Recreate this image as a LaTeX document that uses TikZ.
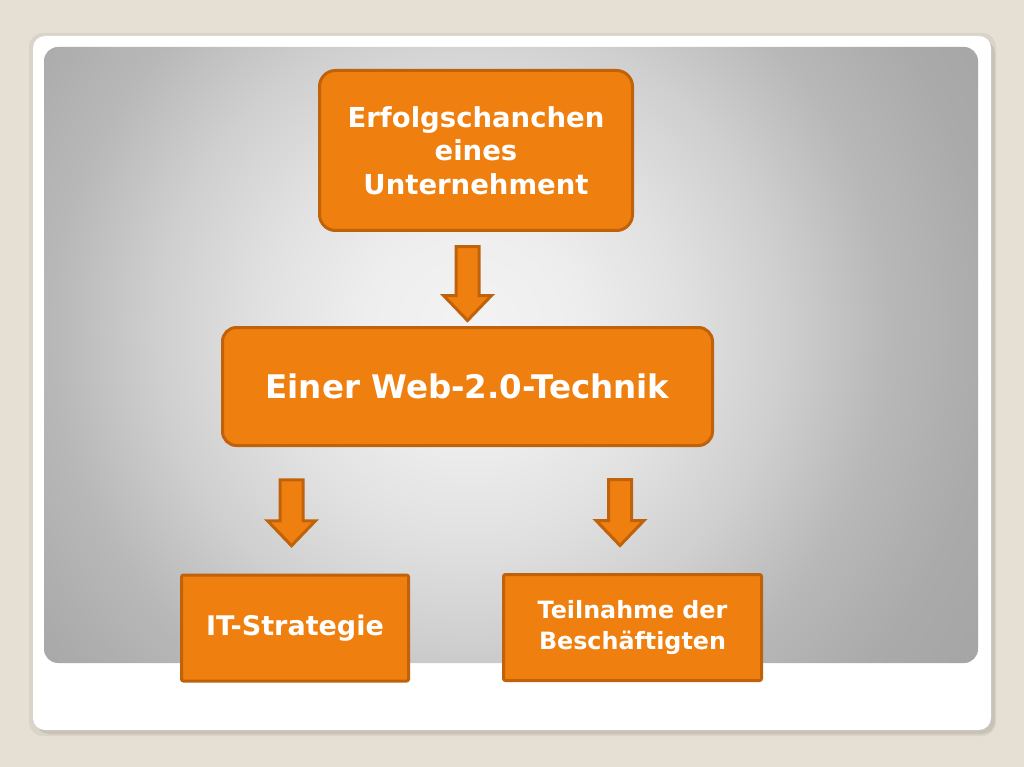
\documentclass[tikz,border=0pt]{standalone}
\usepackage{fontspec}
\setmainfont{DejaVu Sans}
\usepackage{xcolor}
\usetikzlibrary{calc,positioning}

\definecolor{pagebg}{HTML}{E5DFD4}
\definecolor{frameshade}{HTML}{C8C2B7}
\definecolor{frameglow}{HTML}{D9D3C8}
\definecolor{boxfill}{HTML}{EF7F0E}
\definecolor{boxline}{HTML}{C0620A}
\definecolor{panela}{HTML}{F3F3F3}
\definecolor{panelb}{HTML}{EEEEEE}
\definecolor{panelc}{HTML}{E1E1E1}
\definecolor{paneld}{HTML}{CFCFCF}
\definecolor{panele}{HTML}{B8B8B8}
\definecolor{panelf}{HTML}{AAAAAA}
\definecolor{panelg}{HTML}{A4A4A4}
\pgfdeclareradialshading{panelglow}{\pgfpointorigin}{color(0bp)=(panela); color(5bp)=(panelb); color(10bp)=(panelc); color(15bp)=(paneld); color(20bp)=(panele); color(25bp)=(panelf); color(30bp)=(panelg); color(50bp)=(panelg)}

\begin{document}
\begin{tikzpicture}[
    x=1pt, y=-1pt,
    box/.style={draw=boxline,line width=3pt,fill=boxfill,text=white,font=\bfseries,align=center,inner sep=0pt},
    chief/.style={box,rounded corners=16pt},
    leaf/.style={box,rounded corners=2pt},
    pics/downarrow/.style={code={
        \draw[boxline,line width=3pt,fill=boxfill,line join=miter]
            (-11.5,-#1/2) -- (11.5,-#1/2) -- (11.5,#1/2-25) -- (24,#1/2-25)
            -- (0,#1/2) -- (-24,#1/2-25) -- (-11.5,#1/2-25) -- cycle;
    }}
]
\useasboundingbox (0,0) rectangle (1024,767);
\fill[pagebg] (0,0) rectangle (1024,767);
% slide frame with its shadow
\fill[frameglow,rounded corners=14pt] (29,33) rectangle (996,736);
\fill[frameshade,rounded corners=13pt] (36,40) rectangle (995,734);
\fill[white,rounded corners=12pt] (33,36) rectangle (991,730);
\begin{scope}
  \clip[rounded corners=14pt] (44,47) rectangle (978,663);
  \shade[shading=panelglow] (-50,-190) rectangle (990,850);
\end{scope}

\node[chief,minimum width=313,minimum height=160,font=\bfseries\fontsize{27.5}{33.5}\selectfont] (gain) at (476,150.5) {Erfolgschanchen\\eines\\Unternehment};
\node[chief,rounded corners=14pt,minimum width=490,minimum height=118,font=\bfseries\fontsize{32.5}{39}\selectfont] (web) at (467.5,386.5) {Einer Web-2.0-Technik};
\node[leaf,minimum width=227,minimum height=106,font=\bfseries\fontsize{27}{32}\selectfont] (its) at (295,628) {IT-Strategie};
\node[leaf,minimum width=258,minimum height=106,font=\bfseries\fontsize{23.8}{31}\selectfont] (staff) at (632.5,627.5) {Teilnahme der\\Beschäftigten};

\pic at ($(gain.south -| web.north)!.5!(web.north)+(0,4.5)$) {downarrow=74};
\pic at ($(web.south -| its.north)!.5!(its.north)+(-3.5,2.5)$) {downarrow=66};
\pic at ($(web.south -| staff.north)!.5!(staff.north)+(-12.5,2.5)$) {downarrow=66};
\end{tikzpicture}
\end{document}
